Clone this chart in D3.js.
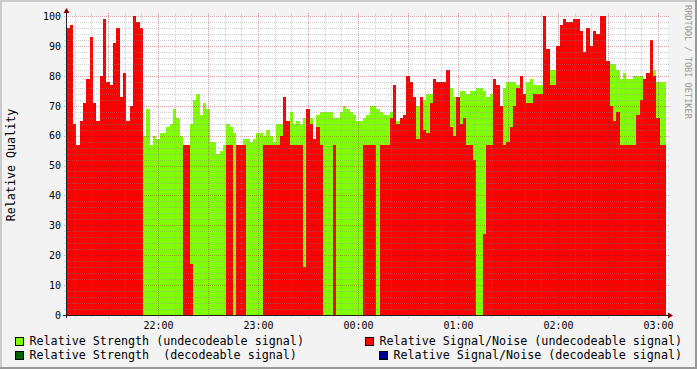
<!doctype html>
<html>
  <head>
    <script src="https://cdn.jsdelivr.net/npm/d3@7"></script>
    <style>
      body { margin: 0; background: #f3f3f3; }
      svg text { font-family: "DejaVu Sans Mono", monospace; }
    </style>
  </head>
  <body>
    <script>
      // one value every 2 minutes, first step starts 21:05
      var start_time = new Date(2020, 0, 1, 21, 5, 0);
      var step_minutes = 2;

      // Relative Signal/Noise (undecodeable), red; null = nothing drawn
      var snr = [
        96, 97, 64, 57, 65, 71, 79, 93, 71, 65,
        80, 99, 78, 77, 91, 96, 73, 81, 65, 70,
        100, 98, 96, null, null, null, null, null, null, null,
        null, null, null, null, null, 57, 57, 17, null, null,
        null, null, null, null, null, null, null, null, 57, 57,
        null, 57, 57, 57, null, null, null, null, null, 57,
        57, 57, 57, 57, 60, 73, 65, 57, 57, 57,
        57, 16, 69, 64, 59, 63, 57, null, null, null,
        57, null, null, null, null, null, null, null, null, 57,
        57, 57, 57, null, 57, 57, 57, 66, 77, 64,
        66, 67, 80, 78, 73, 59, 73, 62, 61, 71,
        79, 78, 78, 78, 82, 63, 60, 73, 64, 66,
        57, 57, 52, null, null, 27, 57, 57, 79, 77,
        70, 57, 58, 63, 70, 76, 80, 74, 71, 71,
        74, 74, 74, 100, 89, 77, 77, 90, 97, 99,
        98, 98, 99, 99, 95, 88, 96, 90, 95, 94,
        100, 100, 85, 70, 65, 68, 57, 57, 57, 57,
        57, 67, 72, 79, 81, 92, 80, 66, 57, 57
      ];

      // Relative Strength (undecodeable), green; null where hidden under red
      var strength = [
        null, null, null, null, null, null, null, null, null, null,
        null, null, null, null, null, null, null, null, null, null,
        null, null, null, 60, 69, 57, 60, 59, 61, 61,
        63, 64, 69, 66, 60, null, null, 64, 72, 74,
        67, 71, 69, 58, 58, 54, 55, 57, 64, 63,
        61, null, null, 59, 59, 58, 59, 61, 61, 60,
        62, 60, 58, 64, 64, null, null, 68, 64, 65,
        64, 66, null, 66, 59, 67, 68, 68, 68, 68,
        66, 66, 68, 70, 69, 68, 67, 65, 65, 66,
        67, 70, 70, 69, 68, 67, 67, 68, null, 65,
        null, null, null, null, null, 70, null, 72, 74, 74,
        null, null, null, null, null, 76, 73, null, 75, 75,
        74, 75, 75, 76, 76, 75, 73, 74, null, null,
        70, 76, 78, 78, 78, 77, null, 74, 78, 79,
        77, 77, 77, null, null, 82, 82, null, null, null,
        null, null, null, null, null, null, null, null, null, null,
        null, null, 83, 84, 84, 82, 79, 81, 79, 79,
        80, 80, 80, null, null, null, 82, 78, 78, 78
      ];

      var y_ticks = [0, 10, 20, 30, 40, 50, 60, 70, 80, 90, 100];
      var x_tick_labels = ["22:00", "23:00", "00:00", "01:00", "02:00", "03:00"];
      var legend_labels = [
        "Relative Strength (undecodeable signal)",
        "Relative Signal/Noise (undecodeable signal)",
        "Relative Strength  (decodeable signal)",
        "Relative Signal/Noise (decodeable signal)"
      ];
      var legend_colors = ["#7fff00", "#ff0000", "#006400", "#00008f"];

      var w_svg = 697, h_svg = 369;
      var left = 67, right = 667, top_y = 16, bottom_y = 315;

      var svg = d3.select("body").append("svg")
                  .attr("width", w_svg)
                  .attr("height", h_svg);

      // background + shaded frame
      svg.append("rect").attr("width", w_svg).attr("height", h_svg).attr("fill", "#f3f3f3");
      svg.append("rect").attr("width", w_svg).attr("height", 2).attr("fill", "#cbcbcb");
      svg.append("rect").attr("width", 2).attr("height", h_svg).attr("fill", "#cbcbcb");
      svg.append("rect").attr("y", h_svg - 2).attr("width", w_svg).attr("height", 2).attr("fill", "#999");
      svg.append("rect").attr("x", w_svg - 2).attr("width", 2).attr("height", h_svg).attr("fill", "#999");

      // canvas
      svg.append("rect").attr("x", left).attr("y", top_y)
         .attr("width", right - left + 1).attr("height", bottom_y - top_y)
         .attr("fill", "#ffffff");

      var x = d3.scaleTime()
                .domain([new Date(2020, 0, 1, 21, 5, 24), new Date(2020, 0, 2, 3, 5, 24)])
                .range([left, right]);
      var y = d3.scaleLinear().domain([0, 100]).range([bottom_y, top_y]);

      var bins = snr.map(function(v, i) {
        return {
          t0: d3.timeMinute.offset(start_time, i * step_minutes),
          t1: d3.timeMinute.offset(start_time, (i + 1) * step_minutes),
          snr: v,
          strength: strength[i]
        };
      });

      svg.append("clipPath").attr("id", "plot")
         .append("rect").attr("x", left).attr("y", top_y)
         .attr("width", right - left + 1).attr("height", bottom_y - top_y + 1);

      var plot = svg.append("g").attr("clip-path", "url(#plot)");

      function draw_series(key, color) {
        plot.append("g").selectAll("rect")
            .data(bins.filter(function(d) { return d[key] != null; }))
            .join("rect")
            .attr("x", function(d) { return x(d.t0); })
            .attr("width", function(d) { return x(d.t1) - x(d.t0); })
            .attr("y", function(d) { return y(d[key]); })
            .attr("height", function(d) { return y(0) - y(d[key]); })
            .attr("fill", color)
            .attr("shape-rendering", "crispEdges");
      }
      draw_series("strength", legend_colors[0]);
      draw_series("snr", legend_colors[1]);

      // grid on top of the data, dotted
      var grid_col = "rgba(140,140,140,0.4)";
      var mgrid_col = "rgba(150,30,30,0.4)";
      var grid = svg.append("g").attr("stroke-dasharray", "1,1")
                    .attr("shape-rendering", "crispEdges").attr("fill", "none");
      var minor_y = d3.range(2, 100, 2).filter(function(v) { return v % 10 != 0; });
      grid.selectAll("line.hy").data(minor_y).join("line")
          .attr("x1", left - 3).attr("x2", right + 3)
          .attr("y1", function(d) { return Math.round(y(d)) + 0.5; })
          .attr("y2", function(d) { return Math.round(y(d)) + 0.5; })
          .attr("stroke", grid_col);
      var minor_x = x.ticks(d3.timeMinute.every(10)).filter(function(t) { return t.getMinutes() % 30 != 0; });
      grid.selectAll("line.vx").data(minor_x).join("line")
          .attr("x1", function(d) { return Math.round(x(d)) + 0.5; })
          .attr("x2", function(d) { return Math.round(x(d)) + 0.5; })
          .attr("y1", top_y - 3).attr("y2", bottom_y + 3)
          .attr("stroke", grid_col);
      grid.selectAll("line.my").data(y_ticks.slice(1)).join("line")
          .attr("x1", left - 3).attr("x2", right + 3)
          .attr("y1", function(d) { return Math.round(y(d)) + 0.5; })
          .attr("y2", function(d) { return Math.round(y(d)) + 0.5; })
          .attr("stroke", mgrid_col);
      var major_x = x.ticks(d3.timeMinute.every(30));
      grid.selectAll("line.mx").data(major_x).join("line")
          .attr("x1", function(d) { return Math.round(x(d)) + 0.5; })
          .attr("x2", function(d) { return Math.round(x(d)) + 0.5; })
          .attr("y1", top_y - 3).attr("y2", bottom_y + 3)
          .attr("stroke", mgrid_col);

      // axes
      svg.append("line").attr("x1", left - 0.5).attr("x2", left - 0.5)
         .attr("y1", 12).attr("y2", bottom_y + 3).attr("stroke", "#202020");
      svg.append("line").attr("x1", left - 4).attr("x2", right + 1)
         .attr("y1", bottom_y + 0.5).attr("y2", bottom_y + 0.5).attr("stroke", "#202020");
      svg.append("path").attr("d", "M63.5,13 L66.5,8 L69.5,13 Z").attr("fill", "#800000");
      svg.append("path").attr("d", "M668,312.5 L673,315.5 L668,318.5 Z").attr("fill", "#800000");

      // y labels
      svg.selectAll("text.yl").data(y_ticks).join("text")
         .attr("x", 61).attr("y", function(d) { return y(d) + 3.8; })
         .attr("text-anchor", "end").attr("font-size", 10).attr("fill", "#000")
         .text(function(d) { return d; });

      // x labels, every hour
      var hours = x.ticks(d3.timeHour.every(1));
      svg.selectAll("text.xl").data(hours).join("text")
         .attr("x", function(d) { return x(d) + 0.5; }).attr("y", 328.5)
         .attr("text-anchor", "middle").attr("font-size", 10).attr("fill", "#000")
         .text(function(d, i) { return x_tick_labels[i]; });

      // unit label
      svg.append("text")
         .attr("transform", "translate(15.3,165) rotate(-90)")
         .attr("text-anchor", "middle").attr("font-size", 11.7).attr("fill", "#000")
         .text("Relative Quality");

      // watermark
      svg.append("text")
         .attr("transform", "translate(685,5) rotate(90)")
         .attr("font-size", 8.6).attr("fill", "#999999")
         .text("RRDTOOL / TOBI OETIKER");

      // legend
      var legend_pos = [[15, 337, 29.5], [365, 337, 379.5], [15, 351, 29.5], [379, 351, 393.5]];
      var legend = svg.selectAll("g.leg").data(legend_labels).join("g");
      legend.append("rect")
            .attr("x", function(d, i) { return legend_pos[i][0] + 0.5; })
            .attr("y", function(d, i) { return legend_pos[i][1] + 0.5; })
            .attr("width", 8).attr("height", 8)
            .attr("fill", function(d, i) { return legend_colors[i]; })
            .attr("stroke", "#000");
      legend.append("text")
            .attr("x", function(d, i) { return legend_pos[i][2]; })
            .attr("y", function(d, i) { return legend_pos[i][1] + 7.6; })
            .attr("font-size", 11.7).attr("fill", "#000")
            .attr("xml:space", "preserve").style("white-space", "pre")
            .text(function(d) { return d; });
    </script>
  </body>
</html>
